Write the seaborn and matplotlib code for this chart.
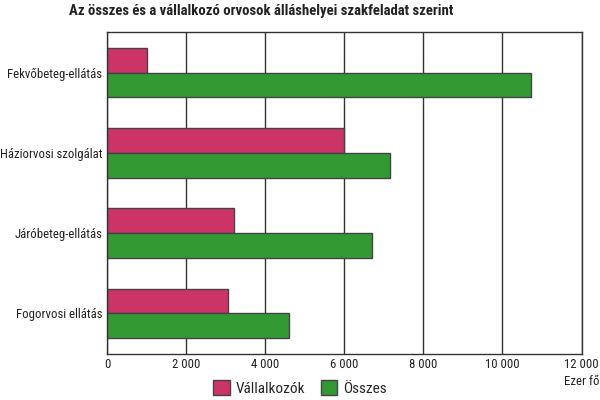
import pandas as pd
import matplotlib
matplotlib.use('Agg')
import matplotlib.pyplot as plt
import seaborn as sns
from matplotlib.ticker import FuncFormatter

# Data (Ezer fő)
categories = ['Fekvőbeteg-ellátás', 'Háziorvosi szolgálat', 'Járóbeteg-ellátás', 'Fogorvosi ellátás']
vallalkozok = [1000, 5980, 3200, 3060]
osszes = [10730, 7160, 6690, 4590]
series = ['Vállalkozók', 'Összes']
colors = ['#CC3366', '#339933']

df = pd.DataFrame({
    'Category': categories * 2,
    'Series': [series[0]] * 4 + [series[1]] * 4,
    'Value': vallalkozok + osszes,
})

sns.set_style('white')
plt.rcParams['font.family'] = ['Roboto Condensed', 'Liberation Sans', 'DejaVu Sans']

fig = plt.figure(figsize=(6, 4), dpi=100)
ax = fig.add_axes([0.1788, 0.116, 0.7904, 0.803])

sns.barplot(data=df, x='Value', y='Category', hue='Series', order=categories,
            hue_order=series, palette=colors, saturation=1, orient='h', width=0.62,
            edgecolor='#444444', linewidth=1, ax=ax)

ax.set_xlim(0, 12000)
ax.set_xticks(range(0, 12001, 2000))
ax.xaxis.set_major_formatter(FuncFormatter(lambda v, p: f'{int(v):,}'.replace(',', ' ')))
ax.grid(axis='x', color='#333333', linewidth=1)
ax.grid(axis='y', visible=False)
ax.set_axisbelow(True)
for s in ax.spines.values():
    s.set_color('#333333')
    s.set_linewidth(1)
ax.tick_params(axis='both', length=0, labelsize=9.2, colors='#222222', pad=3.5)
ax.set_xlabel('')
ax.set_ylabel('')

ax.text(1.0, -0.068, 'Ezer fő', transform=ax.transAxes, ha='center', va='top',
        fontsize=9.2, color='#222222')

fig.suptitle('Az összes és a vállalkozó orvosok álláshelyei szakfeladat szerint',
             x=0.435, y=0.99, fontsize=10.6, fontweight='bold', color='#222222')

handles, labels = ax.get_legend_handles_labels()
ax.get_legend().remove()
fig.legend(handles, labels, loc='center', bbox_to_anchor=(0.5, 0.03), ncol=2,
           frameon=False, fontsize=11, handlelength=1.1, handleheight=1.1,
           columnspacing=1.0, handletextpad=0.4)

fig.savefig('out.png', dpi=100)
